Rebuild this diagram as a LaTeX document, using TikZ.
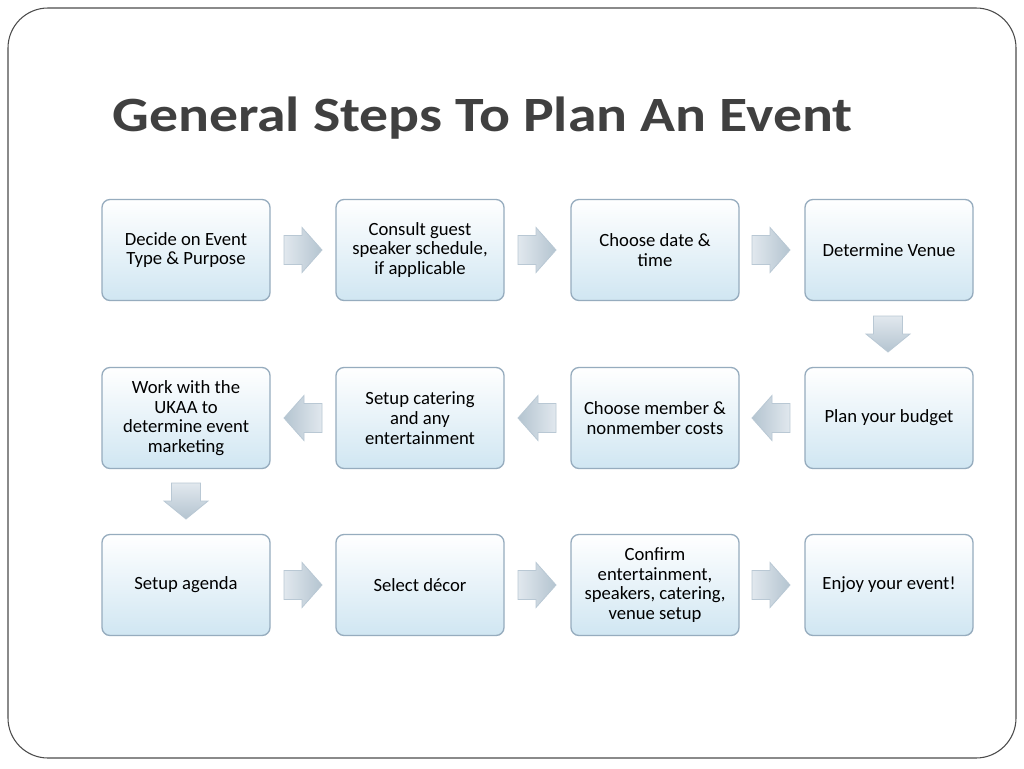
\documentclass[tikz,border=0pt]{standalone}
\usepackage{fontspec}
\usepackage{graphicx}
\setmainfont{Carlito}
\begin{document}
\begin{tikzpicture}[x=0.75pt,y=-0.75pt,
  stepbox/.style={draw=boxline,line width=1pt,rounded corners=6pt,minimum width=126pt,minimum height=75.75pt,
    top color=white,bottom color=boxblue,align=center,font=\fontsize{14}{14.8}\selectfont,text=black},
  arr/.style={draw=arrline,line width=0.6pt,left color=arrlight,right color=arrdark},
  darr/.style={draw=arrline,line width=0.6pt,top color=arrlight,bottom color=arrdark},
  rarrow/.pic={\path[arr] (-19,-14.5)--(-1,-14.5)--(-1,-22.5)--(19,0)--(-1,22.5)--(-1,14.5)--(-19,14.5)--cycle;},
  larrow/.pic={\path[arr,left color=arrdark,right color=arrlight] (19,-14.5)--(1,-14.5)--(1,-22.5)--(-19,0)--(1,22.5)--(1,14.5)--(19,14.5)--cycle;},
  dnarrow/.pic={\path[darr] (-14.5,-18)--(14.5,-18)--(14.5,0)--(22,0)--(0,18)--(-22,0)--(-14.5,0)--cycle;}
]
\definecolor{boxline}{RGB}{150,172,190}
\definecolor{boxblue}{RGB}{208,230,242}
\definecolor{arrline}{RGB}{185,200,212}
\definecolor{arrlight}{RGB}{225,232,238}
\definecolor{arrdark}{RGB}{180,196,208}
\definecolor{titlegray}{RGB}{64,64,64}
\useasboundingbox (0,0) rectangle (1024,768);
\fill[white] (0,0) rectangle (1024,768);
\draw[line width=0.8pt,draw=black!70,rounded corners=30pt] (8,8) rectangle (1016,758);
\node[anchor=west,font=\fontsize{37}{40}\bfseries\selectfont,text=titlegray,inner sep=0pt] (title) at (112,118) {\scalebox{1.17}[1]{General Steps To Plan An Event}};
\node[stepbox] (a1) at (186,250) {Decide on Event\\Type \& Purpose};
\node[stepbox] (a2) at (420,250) {Consult guest\\speaker schedule,\\if applicable};
\node[stepbox] (a3) at (655,250) {Choose date \&\\time};
\node[stepbox] (a4) at (889,250) {Determine Venue};
\node[stepbox] (b1) at (186,418) {Work with the\\UKAA to\\determine event\\marketing};
\node[stepbox] (b2) at (420,418) {Setup catering\\and any\\entertainment};
\node[stepbox] (b3) at (655,418) {Choose member \&\\nonmember costs};
\node[stepbox] (b4) at (889,418) {Plan your budget};
\node[stepbox] (c1) at (186,585) {Setup agenda};
\node[stepbox] (c2) at (420,585) {Select décor};
\node[stepbox] (c3) at (655,585) {Confirm\\entertainment,\\speakers, catering,\\venue setup};
\node[stepbox] (c4) at (889,585) {Enjoy your event!};
\pic at (303,250) {rarrow};
\pic at (537,250) {rarrow};
\pic at (771,250) {rarrow};
\pic at (888,334) {dnarrow};
\pic at (771,418) {larrow};
\pic at (537,418) {larrow};
\pic at (303,418) {larrow};
\pic at (186,501) {dnarrow};
\pic at (303,585) {rarrow};
\pic at (537,585) {rarrow};
\pic at (771,585) {rarrow};
\end{tikzpicture}
\end{document}
